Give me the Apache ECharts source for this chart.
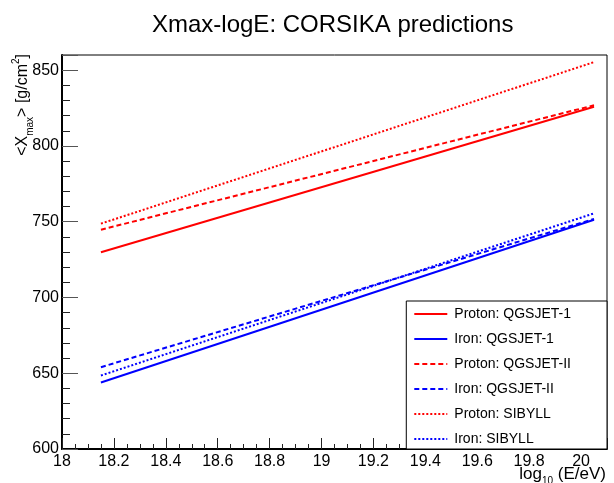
<!DOCTYPE html>
<html>
<head>
<meta charset="utf-8">
<script src="https://cdn.jsdelivr.net/npm/echarts@6/dist/echarts.min.js"></script>
<style>
  html, body { margin: 0; padding: 0; background: #fff; }
  #chart { width: 614px; height: 483px; }
</style>
</head>
<body>
<div id="chart"></div>
<script>
// log10(E/eV) at both ends of each prediction line
const logE = [18.15, 20.05]

// <Xmax> in g/cm^2
const protonQGSJET1 = [729.8, 825.8]
const ironQGSJET1 = [643.9, 751.3]
const protonQGSJET2 = [744.7, 826.8]
const ironQGSJET2 = [654.0, 751.8]
const protonSIBYLL = [748.7, 855.3]
const ironSIBYLL = [648.5, 755.5]

const seriesNames = [
  'Proton: QGSJET-1',
  'Iron: QGSJET-1',
  'Proton: QGSJET-II',
  'Iron: QGSJET-II',
  'Proton: SIBYLL',
  'Iron: SIBYLL'
]
const seriesValues = [protonQGSJET1, ironQGSJET1, protonQGSJET2, ironQGSJET2, protonSIBYLL, ironSIBYLL]
const seriesColors = ['#ff0000', '#0000ff', '#ff0000', '#0000ff', '#ff0000', '#0000ff']
const seriesDash = ['solid', 'solid', [5, 3], [5, 3], [2, 2], [2, 2]]

const FONT = 'Liberation Sans, Arial, Helvetica, sans-serif'

const myChart = echarts.init(document.getElementById('chart'), null, { renderer: 'canvas' })

const series = seriesNames.map((name, i) => ({
  name: name,
  type: 'line',
  symbol: 'none',
  silent: true,
  data: logE.map((x, j) => [x, seriesValues[i][j]]),
  lineStyle: {
    color: seriesColors[i],
    width: 2,
    type: seriesDash[i]
  },
  itemStyle: { color: seriesColors[i] }
}))

myChart.setOption({
  animation: false,
  backgroundColor: '#fff',
  title: {
    text: 'Xmax-logE: CORSIKA predictions',
    left: 147,
    top: 8,
    textStyle: {
      fontFamily: FONT,
      fontSize: 24,
      fontWeight: 'normal',
      color: '#000'
    }
  },
  grid: {
    left: 62,
    right: 7,
    top: 55,
    bottom: 34,
    show: true,
    borderColor: '#000',
    borderWidth: 1
  },
  legend: {
    orient: 'vertical',
    right: 7,
    bottom: 34,
    padding: [6, 36, 3, 7],
    itemWidth: 33,
    itemHeight: 14,
    itemGap: 11,
    backgroundColor: '#fff',
    borderColor: '#000',
    borderWidth: 1,
    itemStyle: { opacity: 0 },
    textStyle: {
      fontFamily: FONT,
      fontSize: 14,
      color: '#000',
      padding: [0, 0, 0, 2]
    },
    data: seriesNames
  },
  xAxis: {
    type: 'value',
    min: 18,
    max: 20.1,
    interval: 0.2,
    axisLine: { lineStyle: { color: '#000', width: 2 } },
    axisTick: { inside: true, length: 11, lineStyle: { color: '#222' } },
    minorTick: { show: true, splitNumber: 4, length: 5, lineStyle: { color: '#222' } },
    splitLine: { show: false },
    axisLabel: {
      showMaxLabel: false,
      margin: 5,
      fontFamily: FONT,
      fontSize: 16,
      color: '#000',
      formatter: v => String(Math.round(v * 10) / 10)
    }
  },
  yAxis: {
    type: 'value',
    min: 600,
    max: 860,
    interval: 50,
    axisLine: { show: true, lineStyle: { color: '#000', width: 2 } },
    axisTick: { show: true, inside: true, length: 16, lineStyle: { color: '#555' } },
    minorTick: { show: true, splitNumber: 5, length: 8, lineStyle: { color: '#222' } },
    splitLine: { show: false },
    axisLabel: {
      showMaxLabel: false,
      margin: 3,
      fontFamily: FONT,
      fontSize: 16,
      color: '#000'
    }
  },
  graphic: [
    {
      type: 'text',
      x: 23,
      y: 54,
      rotation: Math.PI / 2,
      style: {
        text: '{a|<X}{sub|max}{a|> [g/cm}{sup|2}{a|]}',
        align: 'right',
        verticalAlign: 'middle',
        fill: '#000',
        rich: {
          a: { fontFamily: FONT, fontSize: 16, lineHeight: 24, verticalAlign: 'middle', fill: '#000' },
          sub: { fontFamily: FONT, fontSize: 10, lineHeight: 14, verticalAlign: 'bottom', fill: '#000' },
          sup: { fontFamily: FONT, fontSize: 10, lineHeight: 14, verticalAlign: 'top', fill: '#000' }
        }
      }
    },
    {
      type: 'text',
      x: 606,
      y: 474,
      style: {
        text: '{a|log}{sub|10}{a| (E/eV)}',
        align: 'right',
        verticalAlign: 'middle',
        fill: '#000',
        rich: {
          a: { fontFamily: FONT, fontSize: 17, lineHeight: 24, verticalAlign: 'middle', fill: '#000' },
          sub: { fontFamily: FONT, fontSize: 10, lineHeight: 14, verticalAlign: 'bottom', fill: '#000' }
        }
      }
    }
  ],
  series: series
})
</script>
</body>
</html>
